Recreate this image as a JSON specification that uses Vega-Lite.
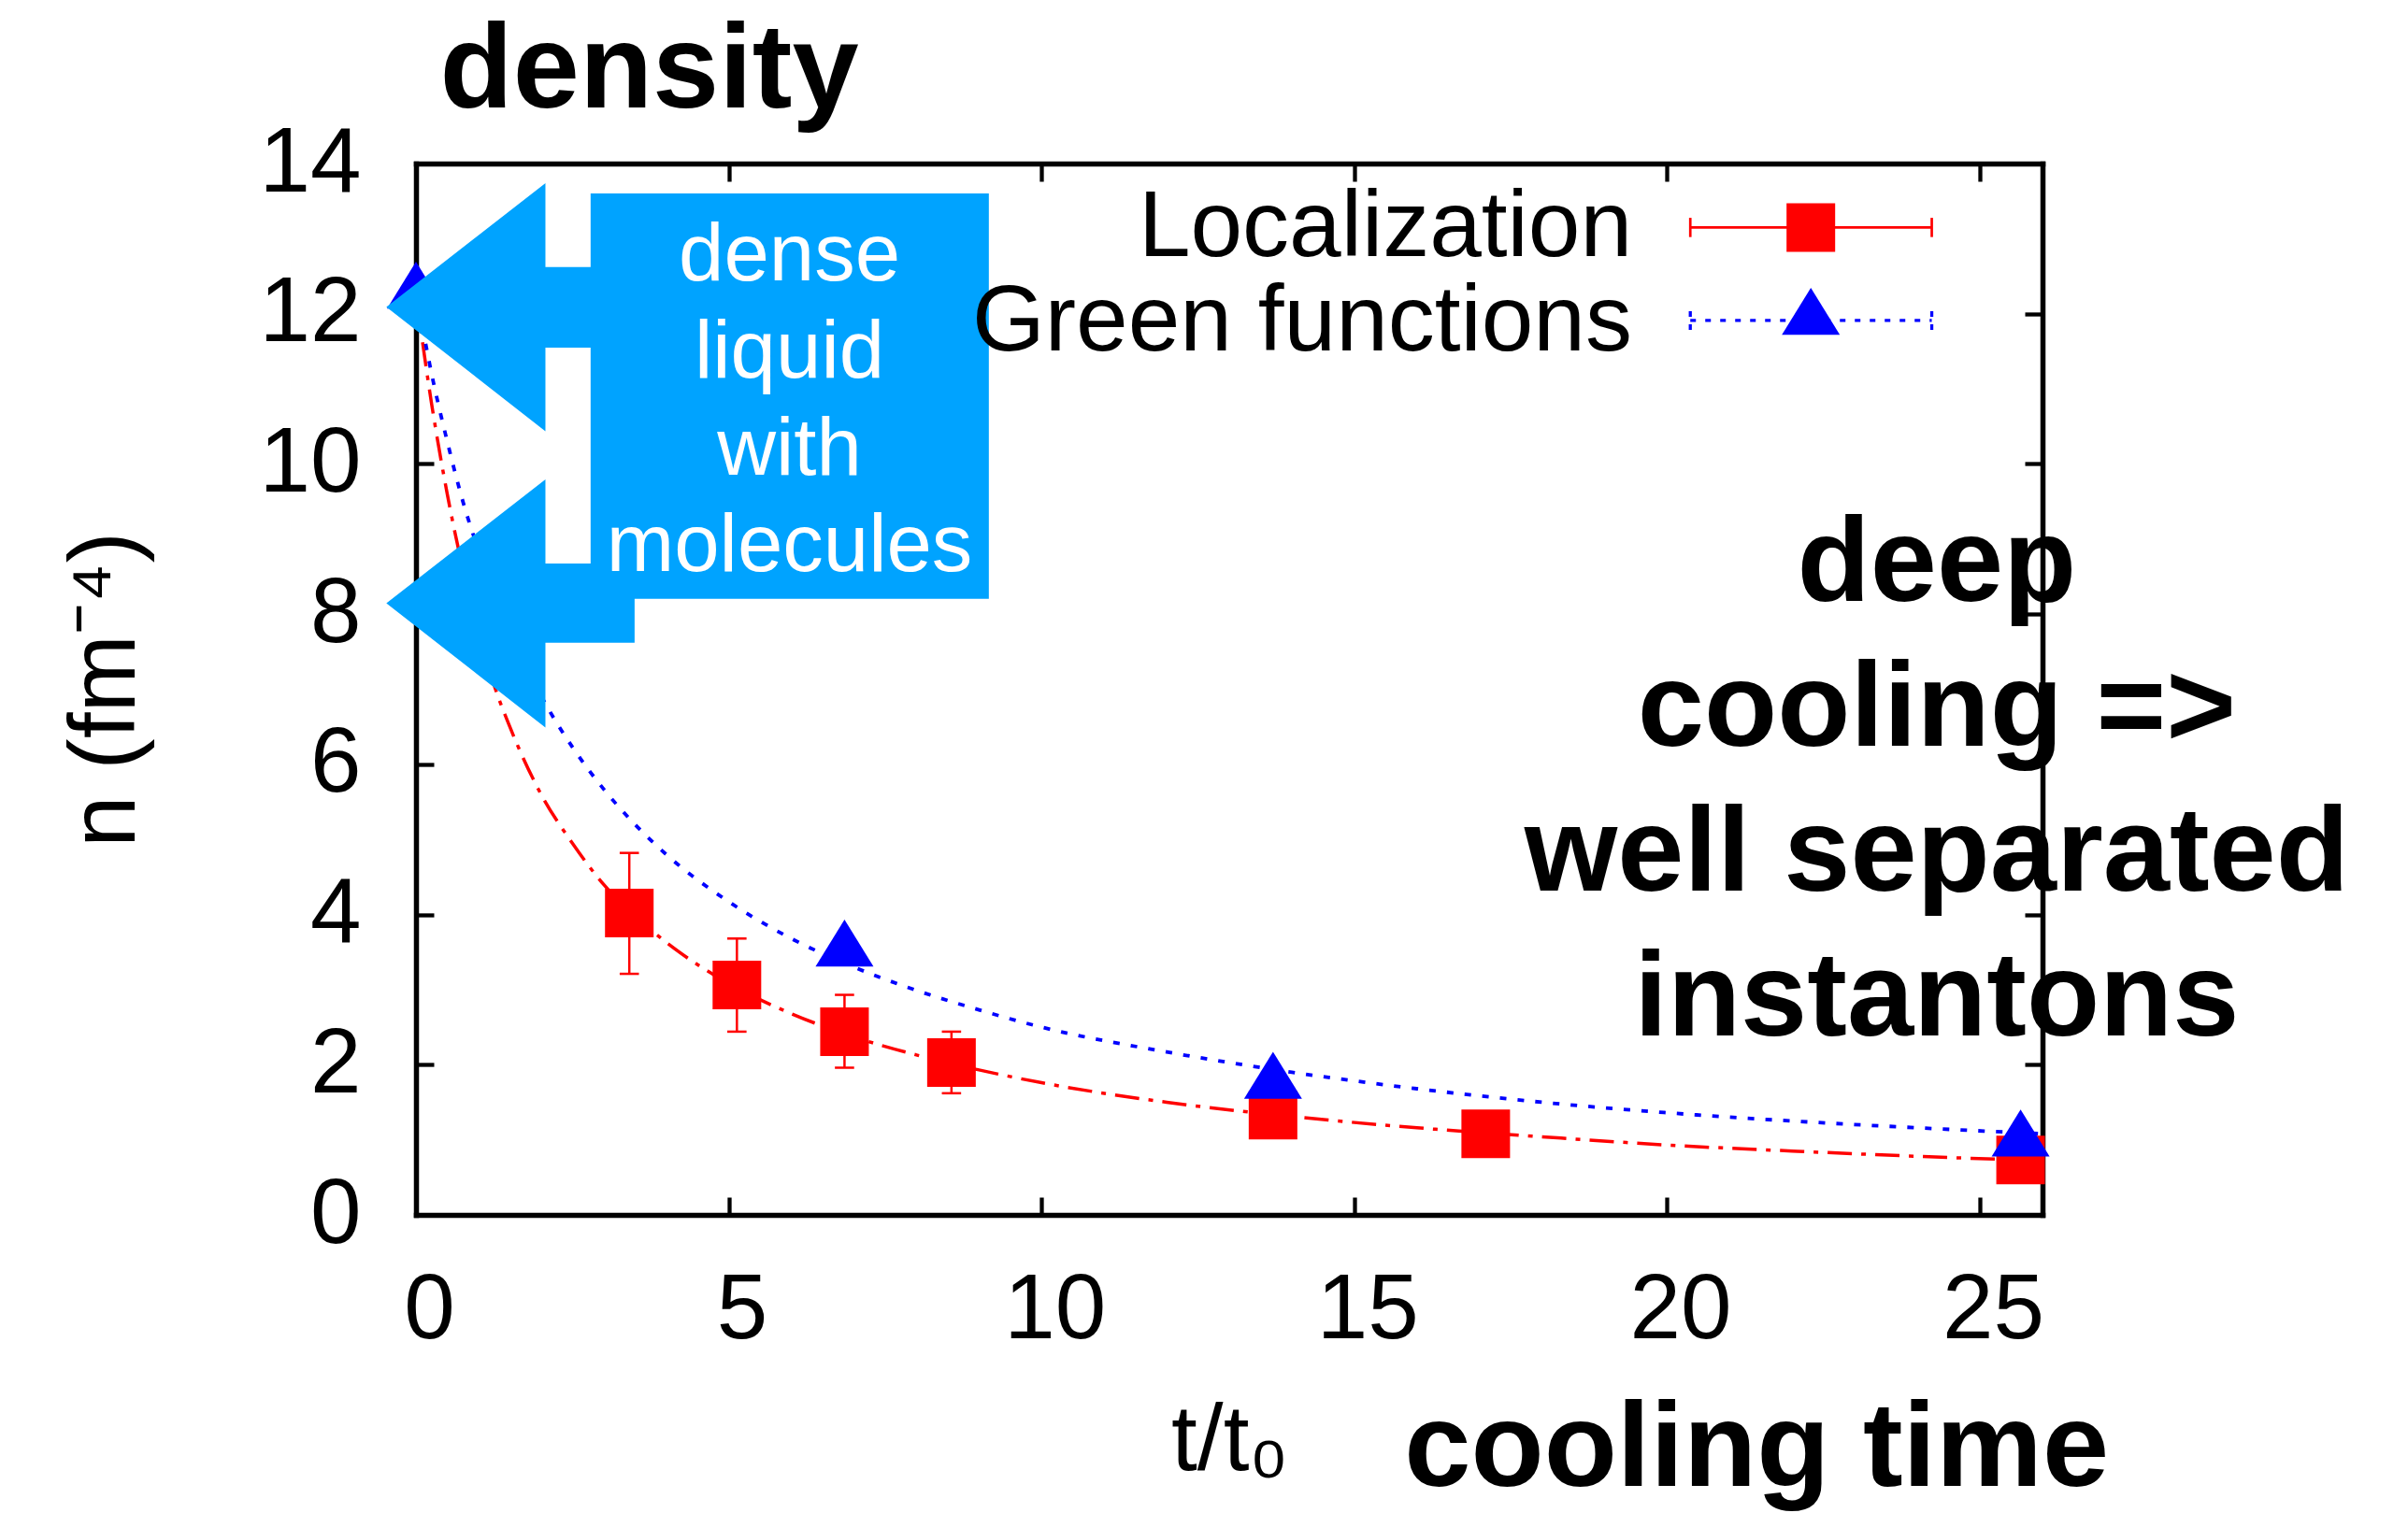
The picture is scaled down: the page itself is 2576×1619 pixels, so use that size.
{
  "$schema": "https://vega.github.io/schema/vega-lite/v6.json",
  "width": 1740,
  "height": 1125,
  "autosize": {"type": "none"},
  "padding": {"left": 445, "top": 175, "right": 391, "bottom": 319},
  "background": "white",
  "config": {
    "view": {"stroke": null},
    "font": "Liberation Sans",
    "axis": {
      "domainColor": "black",
      "domainWidth": 5.5,
      "domainCap": "square",
      "tickColor": "black",
      "tickWidth": 4.3,
      "tickSize": -19,
      "grid": false,
      "labelFont": "Liberation Sans",
      "labelFontSize": 98,
      "labelColor": "black",
      "labelFlush": false,
      "labelOverlap": false,
      "titleFont": "Liberation Sans",
      "titleFontSize": 100,
      "titleFontWeight": "normal",
      "titleColor": "black"
    }
  },
  "datasets": {
    "points": [
      {"series": "Localization", "t": 3.41, "n": 4.02, "lo": 3.21, "hi": 4.82},
      {"series": "Localization", "t": 5.13, "n": 3.06, "lo": 2.44, "hi": 3.68},
      {"series": "Localization", "t": 6.85, "n": 2.44, "lo": 1.96, "hi": 2.93},
      {"series": "Localization", "t": 8.56, "n": 2.03, "lo": 1.62, "hi": 2.44},
      {"series": "Localization", "t": 13.7, "n": 1.33},
      {"series": "Localization", "t": 17.1, "n": 1.08},
      {"series": "Localization", "t": 25.65, "n": 0.73},
      {"series": "Green functions", "t": 0, "n": 12.26},
      {"series": "Green functions", "t": 6.85, "n": 3.5},
      {"series": "Green functions", "t": 13.7, "n": 1.74},
      {"series": "Green functions", "t": 25.65, "n": 0.97}
    ],
    "fits": [
      {"series": "Localization", "t": 0, "n": 12.25},
      {"series": "Localization", "t": 0.25, "n": 10.8},
      {"series": "Localization", "t": 0.5, "n": 9.6},
      {"series": "Localization", "t": 0.75, "n": 8.6},
      {"series": "Localization", "t": 1, "n": 7.75},
      {"series": "Localization", "t": 1.25, "n": 7.05},
      {"series": "Localization", "t": 1.5, "n": 6.5},
      {"series": "Localization", "t": 2, "n": 5.6},
      {"series": "Localization", "t": 2.5, "n": 4.95},
      {"series": "Localization", "t": 3, "n": 4.4},
      {"series": "Localization", "t": 3.5, "n": 3.98},
      {"series": "Localization", "t": 4, "n": 3.63},
      {"series": "Localization", "t": 5, "n": 3.08},
      {"series": "Localization", "t": 6, "n": 2.68},
      {"series": "Localization", "t": 7, "n": 2.37},
      {"series": "Localization", "t": 8, "n": 2.13},
      {"series": "Localization", "t": 9, "n": 1.93},
      {"series": "Localization", "t": 10, "n": 1.76},
      {"series": "Localization", "t": 12, "n": 1.5},
      {"series": "Localization", "t": 14, "n": 1.31},
      {"series": "Localization", "t": 16, "n": 1.16},
      {"series": "Localization", "t": 18, "n": 1.04},
      {"series": "Localization", "t": 20, "n": 0.93},
      {"series": "Localization", "t": 22, "n": 0.85},
      {"series": "Localization", "t": 24, "n": 0.78},
      {"series": "Localization", "t": 26, "n": 0.72},
      {"series": "Green functions", "t": 0, "n": 12.3},
      {"series": "Green functions", "t": 0.25, "n": 11.2},
      {"series": "Green functions", "t": 0.5, "n": 10.3},
      {"series": "Green functions", "t": 0.75, "n": 9.5},
      {"series": "Green functions", "t": 1, "n": 8.85},
      {"series": "Green functions", "t": 1.25, "n": 8.28},
      {"series": "Green functions", "t": 1.5, "n": 7.76},
      {"series": "Green functions", "t": 2, "n": 6.91},
      {"series": "Green functions", "t": 2.5, "n": 6.23},
      {"series": "Green functions", "t": 3, "n": 5.67},
      {"series": "Green functions", "t": 3.5, "n": 5.2},
      {"series": "Green functions", "t": 4, "n": 4.8},
      {"series": "Green functions", "t": 5, "n": 4.17},
      {"series": "Green functions", "t": 6, "n": 3.68},
      {"series": "Green functions", "t": 7, "n": 3.3},
      {"series": "Green functions", "t": 8, "n": 2.99},
      {"series": "Green functions", "t": 9, "n": 2.73},
      {"series": "Green functions", "t": 10, "n": 2.5},
      {"series": "Green functions", "t": 12, "n": 2.17},
      {"series": "Green functions", "t": 14, "n": 1.9},
      {"series": "Green functions", "t": 16, "n": 1.68},
      {"series": "Green functions", "t": 18, "n": 1.5},
      {"series": "Green functions", "t": 20, "n": 1.36},
      {"series": "Green functions", "t": 22, "n": 1.25},
      {"series": "Green functions", "t": 24, "n": 1.16},
      {"series": "Green functions", "t": 26, "n": 1.08}
    ]
  },
  "layer": [
    {
      "data": {"name": "fits"},
      "transform": [{"filter": "datum.series === 'Localization'"}],
      "mark": {"type": "line", "color": "#ff0000", "strokeWidth": 3.5, "strokeDash": [26, 10, 5, 10], "interpolate": "monotone"},
      "encoding": {
        "x": {
          "field": "t", "type": "quantitative",
          "scale": {"domain": [0, 26], "nice": false, "zero": false},
          "axis": {
            "orient": "bottom", "values": [0, 5, 10, 15, 20, 25],
            "labelPadding": 73, "labelOffset": 14,
            "title": "t/t₀", "titleX": 870, "titleY": 272,
            "titleAlign": "center", "titleBaseline": "alphabetic", "titleAngle": 0
          }
        },
        "y": {
          "field": "n", "type": "quantitative",
          "scale": {"domain": [0, 14], "nice": false, "zero": false},
          "axis": {
            "orient": "left", "values": [0, 2, 4, 6, 8, 10, 12, 14],
            "labelPadding": 78,
            "title": "n (fm⁻⁴)", "titleX": -302, "titleY": 562.5,
            "titleAngle": -90, "titleAlign": "center", "titleBaseline": "alphabetic"
          }
        }
      }
    },
    {
      "data": {"name": "fits"},
      "transform": [{"filter": "datum.series === 'Green functions'"}],
      "mark": {"type": "line", "color": "#0000ff", "strokeWidth": 3.8, "strokeDash": [7, 12], "interpolate": "monotone"},
      "encoding": {
        "x": {
          "field": "t", "type": "quantitative",
          "scale": {"domain": [0, 26], "nice": false, "zero": false},
          "axis": {"orient": "top", "values": [0, 5, 10, 15, 20, 25], "labels": false, "title": null}
        },
        "y": {
          "field": "n", "type": "quantitative",
          "scale": {"domain": [0, 14], "nice": false, "zero": false},
          "axis": {"orient": "right", "values": [0, 2, 4, 6, 8, 10, 12, 14], "labels": false, "title": null}
        }
      }
    },
    {
      "data": {"name": "points"},
      "mark": {"type": "rule", "color": "#ff0000", "strokeWidth": 2.5},
      "encoding": {
        "x": {"field": "t", "type": "quantitative", "axis": null},
        "y": {"field": "lo", "type": "quantitative", "axis": null},
        "y2": {"field": "hi"}
      }
    },
    {
      "data": {"name": "points"},
      "mark": {"type": "tick", "orient": "horizontal", "color": "#ff0000", "size": 20.6, "thickness": 2.5, "opacity": 1},
      "encoding": {
        "x": {"field": "t", "type": "quantitative", "axis": null},
        "y": {"field": "lo", "type": "quantitative", "axis": null}
      }
    },
    {
      "data": {"name": "points"},
      "mark": {"type": "tick", "orient": "horizontal", "color": "#ff0000", "size": 20.6, "thickness": 2.5, "opacity": 1},
      "encoding": {
        "x": {"field": "t", "type": "quantitative", "axis": null},
        "y": {"field": "hi", "type": "quantitative", "axis": null}
      }
    },
    {
      "data": {"name": "points"},
      "transform": [{"filter": "datum.series === 'Localization'"}],
      "mark": {"type": "point", "shape": "square", "filled": true, "opacity": 1, "size": 2704, "strokeWidth": 0},
      "encoding": {
        "x": {"field": "t", "type": "quantitative", "axis": null},
        "y": {"field": "n", "type": "quantitative", "axis": null},
        "color": {
          "field": "series", "type": "nominal",
          "scale": {"domain": ["Localization", "Green functions"], "range": ["#ff0000", "#0000ff"]},
          "legend": {
            "orient": "none", "legendX": 1361.5, "legendY": 18.8,
            "title": null, "padding": 0, "rowPadding": 0, "clipHeight": 99.4,
            "symbolSize": 67600, "symbolStrokeWidth": 2.7, "symbolOffset": 0, "symbolOpacity": 0,
            "labelFont": "Liberation Sans", "labelFontSize": 100, "labelColor": "black",
            "labelAlign": "right", "labelBaseline": "middle", "labelOffset": -323.5, "labelLimit": 3000
          }
        }
      }
    },
    {
      "data": {"name": "points"},
      "transform": [{"filter": "datum.series === 'Green functions'"}],
      "mark": {"type": "point", "shape": "M0,-1.12L1,0.5L-1,0.5Z", "filled": true, "opacity": 1, "size": 3844, "strokeWidth": 0},
      "encoding": {
        "x": {"field": "t", "type": "quantitative", "axis": null},
        "y": {"field": "n", "type": "quantitative", "axis": null},
        "color": {"field": "series", "type": "nominal", "legend": null}
      }
    },
    {
      "data": {"values": [{}]},
      "mark": {"type": "rule", "color": "#ff0000", "strokeWidth": 2.7},
      "encoding": {
        "x": {"datum": 20.37, "type": "quantitative", "axis": null},
        "x2": {"datum": 24.23},
        "y": {"datum": 13.149, "type": "quantitative", "axis": null}
      }
    },
    {
      "data": {"values": [{}]},
      "mark": {"type": "rule", "color": "#ff0000", "strokeWidth": 2.7},
      "encoding": {
        "x": {"datum": 20.37, "type": "quantitative", "axis": null},
        "y": {"datum": 13.021, "type": "quantitative", "axis": null},
        "y2": {"datum": 13.277}
      }
    },
    {
      "data": {"values": [{}]},
      "mark": {"type": "rule", "color": "#ff0000", "strokeWidth": 2.7},
      "encoding": {
        "x": {"datum": 24.23, "type": "quantitative", "axis": null},
        "y": {"datum": 13.021, "type": "quantitative", "axis": null},
        "y2": {"datum": 13.277}
      }
    },
    {
      "data": {"values": [{}]},
      "mark": {"type": "point", "shape": "square", "filled": true, "opacity": 1, "color": "#ff0000", "size": 2704, "strokeWidth": 0},
      "encoding": {
        "x": {"datum": 22.297, "type": "quantitative", "axis": null},
        "y": {"datum": 13.149, "type": "quantitative", "axis": null}
      }
    },
    {
      "data": {"values": [{}]},
      "mark": {"type": "rule", "color": "#0000ff", "strokeWidth": 3.3, "strokeDash": [6, 10]},
      "encoding": {
        "x": {"datum": 20.37, "type": "quantitative", "axis": null},
        "x2": {"datum": 24.23},
        "y": {"datum": 11.912, "type": "quantitative", "axis": null}
      }
    },
    {
      "data": {"values": [{}]},
      "mark": {"type": "rule", "color": "#0000ff", "strokeWidth": 3.3, "strokeDash": [6, 8]},
      "encoding": {
        "x": {"datum": 20.37, "type": "quantitative", "axis": null},
        "y": {"datum": 11.784, "type": "quantitative", "axis": null},
        "y2": {"datum": 12.04}
      }
    },
    {
      "data": {"values": [{}]},
      "mark": {"type": "rule", "color": "#0000ff", "strokeWidth": 3.3, "strokeDash": [6, 8]},
      "encoding": {
        "x": {"datum": 24.23, "type": "quantitative", "axis": null},
        "y": {"datum": 11.784, "type": "quantitative", "axis": null},
        "y2": {"datum": 12.04}
      }
    },
    {
      "data": {"values": [{}]},
      "mark": {"type": "point", "shape": "M0,-1.12L1,0.5L-1,0.5Z", "filled": true, "opacity": 1, "color": "#0000ff", "size": 3844, "strokeWidth": 0},
      "encoding": {
        "x": {"datum": 22.297, "type": "quantitative", "axis": null},
        "y": {"datum": 11.912, "type": "quantitative", "axis": null}
      }
    },
    {
      "data": {"values": [{}]},
      "mark": {
        "type": "point", "filled": true, "opacity": 1, "color": "#00a3ff", "strokeWidth": 0, "size": 415380,
        "shape": "M-0.322,-0.87H1V0.476H-0.322ZM-0.48,-0.625H-0.31V-0.358H-0.48ZM-1,-0.493L-0.472,-0.904V-0.08ZM-0.48,0.359H-0.176V0.622H-0.48ZM-1,0.491L-0.472,0.08V0.904Z"
      },
      "encoding": {
        "x": {"datum": 4.342, "type": "quantitative", "axis": null},
        "y": {"datum": 10.114, "type": "quantitative", "axis": null}
      }
    },
    {
      "data": {"values": [{}]},
      "mark": {
        "type": "text", "text": ["dense", "liquid", "with", "molecules"],
        "font": "Liberation Sans", "fontSize": 87, "color": "white",
        "align": "center", "baseline": "alphabetic", "lineHeight": 103.7
      },
      "encoding": {
        "x": {"datum": 5.97, "type": "quantitative", "axis": null},
        "y": {"datum": 12.44, "type": "quantitative", "axis": null}
      }
    },
    {
      "data": {"values": [{}]},
      "mark": {
        "type": "text", "text": ["deep", "cooling =>", "well separated", "instantons"],
        "font": "Liberation Sans", "fontSize": 128, "fontWeight": "bold", "color": "black",
        "align": "center", "baseline": "alphabetic", "lineHeight": 155
      },
      "encoding": {
        "x": {"datum": 24.31, "type": "quantitative", "axis": null},
        "y": {"datum": 8.18, "type": "quantitative", "axis": null}
      }
    },
    {
      "data": {"values": [{}]},
      "mark": {
        "type": "text", "text": "density",
        "font": "Liberation Sans", "fontSize": 128, "fontWeight": "bold", "color": "black",
        "align": "center", "baseline": "alphabetic"
      },
      "encoding": {
        "x": {"datum": 3.73, "type": "quantitative", "axis": null},
        "y": {"datum": 14.75, "type": "quantitative", "axis": null}
      }
    },
    {
      "data": {"values": [{}]},
      "mark": {
        "type": "text", "text": "cooling time",
        "font": "Liberation Sans", "fontSize": 128, "fontWeight": "bold", "color": "black",
        "align": "center", "baseline": "alphabetic"
      },
      "encoding": {
        "x": {"datum": 21.43, "type": "quantitative", "axis": null},
        "y": {"datum": -3.615, "type": "quantitative", "axis": null}
      }
    }
  ]
}
